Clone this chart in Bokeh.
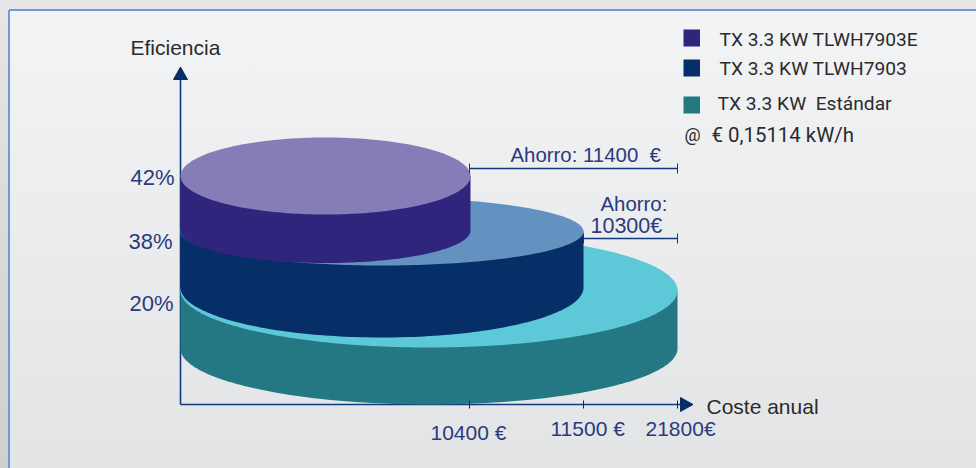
import numpy as np
from bokeh.embed import file_html
from bokeh.models import Range1d
from bokeh.plotting import figure
from bokeh.resources import INLINE
from bokeh.core.properties import value

# series, back to front
series = ["TX 3.3 KW\u00a0\u00a0Estándar", "TX 3.3 KW TLWH7903", "TX 3.3 KW TLWH7903E"]
side_colors = ["#237883", "#052f66", "#2f257c"]
top_colors = ["#5dc8d8", "#6492c0", "#857cb8"]
efficiency_labels = ["20%", "38%", "42%"]
cost_labels = ["21800€", "11500 €", "10400 €"]
x_left = [180, 180, 180]
x_right = [677, 583, 470]
top_cy = [290, 231, 175.5]
top_ry = [57, 34, 38.5]
bottom_cy = [348, 287, 230]
bottom_ry = [56, 50, 32.5]

NAVY = "#12397a"
BLUE_TEXT = "#2b3a7e"
DARK = "#2b2b2b"
SANS = "Liberation Sans"
NARROW = "Roboto"

p = figure(width=976, height=468, x_range=Range1d(0, 976), y_range=Range1d(468, 0),
           output_backend="svg", toolbar_location=None, min_border=0,
           background_fill_color=None, border_fill_color=None, outline_line_color=None,
           styles={"background":
                   "linear-gradient(#e7e5e5,#cfcfcf) left/8px 100% no-repeat,"
                   "linear-gradient(#e7e5e5,#e7e5e5) top/100% 9px no-repeat,"
                   "linear-gradient(#f3f4f6,#e3e4e6)"})
p.axis.visible = False
p.grid.visible = False


def label(x, y, text, color=BLUE_TEXT, size=21, font=SANS):
    # the SVG text sits about 0.36 em below the requested baseline
    p.text([x], [y - 0.36 * size], text=[text], text_color=color, text_font=value(font),
           text_font_size=f"{size}px", text_baseline="alphabetic", text_align="left")


# panel frame
p.line([8.5, 8.5], [468, 9.5], line_color="#6f9bd4", line_width=2)
p.line([8.5, 976], [9.5, 9.5], line_color="#6f9bd4", line_width=2)

# axes
p.line([180, 180], [404, 78], line_color=NAVY, line_width=1.6)
p.line([180, 682], [404, 404], line_color=NAVY, line_width=1.6)
p.patch([173, 187, 180], [79, 79, 66.5], color="#052f66")
p.patch([680, 692.5, 680], [397, 404, 411], color="#052f66")

# cylinders
t = np.linspace(0, np.pi, 121)
t2 = np.linspace(0, 2 * np.pi, 241)
for i in range(3):
    cx = (x_left[i] + x_right[i]) / 2
    rx = (x_right[i] - x_left[i]) / 2
    xs = np.r_[x_left[i], cx - rx * np.cos(t), x_right[i]]
    ys = np.r_[top_cy[i], bottom_cy[i] + bottom_ry[i] * np.sin(t), top_cy[i]]
    p.patch(xs, ys, color=side_colors[i], line_width=0)
    p.patch(cx + rx * np.cos(t2), top_cy[i] + top_ry[i] * np.sin(t2), color=top_colors[i], line_width=0)

# x ticks
for x in [469, 583, 677]:
    p.line([x, x], [400, 408], line_color="#222222", line_width=1)

# saving brackets
for x0, y in [(469, 168), (583, 238)]:
    p.line([x0, 677], [y, y], line_color=NAVY, line_width=1.4)
    p.line([x0, x0], [y - 5, y + 5], line_color=NAVY, line_width=1)
    p.line([677, 677], [y - 5, y + 5], line_color=NAVY, line_width=1)

# legend
for c, y0, y1 in [(side_colors[2], 29, 46), (side_colors[1], 59, 76), (side_colors[0], 96, 113)]:
    p.quad(left=[683], right=[699.5], top=[y0], bottom=[y1], color=c, line_width=0)
label(719, 46, series[2], DARK, 19.2, NARROW)
label(719, 75, series[1], DARK, 19.2, NARROW)
label(717, 110, series[0], DARK, 19.2, NARROW)
label(684, 140, "@", DARK, 18, NARROW)
label(711, 142, "€ 0,15114 kW/h", DARK, 20.4, NARROW)

# texts
label(130, 55, "Eficiencia", DARK)
label(706, 414, "Coste anual", DARK)
label(130, 185, efficiency_labels[2], size=22)
label(128, 249, efficiency_labels[1], size=22)
label(129, 311, efficiency_labels[0], size=22)
label(510, 162, "Ahorro: 11400\u00a0\u00a0€", size=20.4)
label(600, 211, "Ahorro:", size=20.4)
label(590, 233, "10300€", size=21.5)
label(430, 440, cost_labels[2])
label(550, 436, cost_labels[1])
label(645, 436, cost_labels[0])

open("out.html", "w").write(file_html(p, INLINE))
